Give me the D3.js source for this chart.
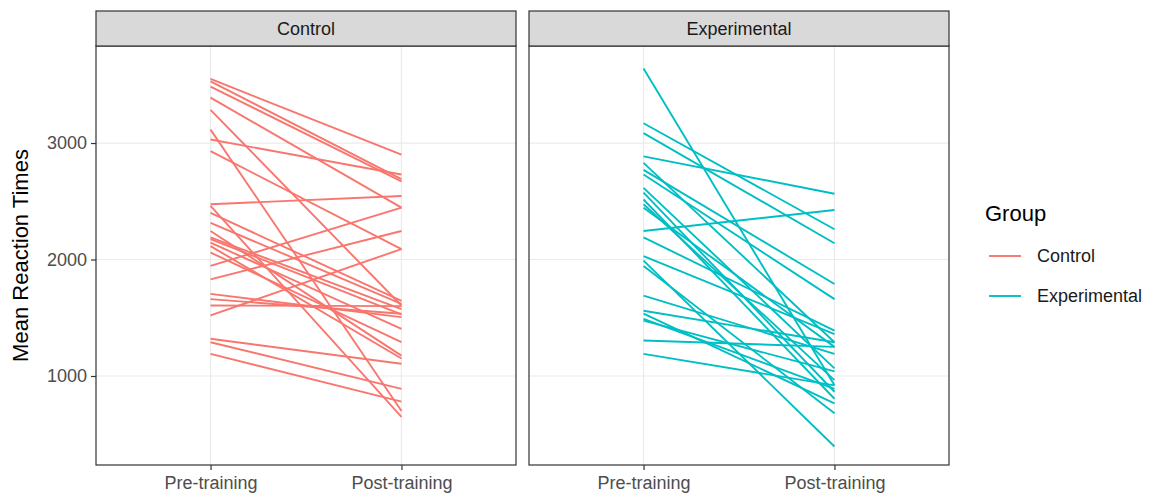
<!DOCTYPE html>
<html>
<head>
<meta charset="utf-8">
<script src="https://cdn.jsdelivr.net/npm/d3@7"></script>
<style>
  body { margin: 0; background: #fff; }
  text { font-family: "Liberation Sans", Arial, sans-serif; }
</style>
</head>
<body>
<svg id="chart" width="1157" height="499"></svg>
<script>
/* data */
const groups = ["Control", "Experimental"];
const times = ["Pre-training", "Post-training"];
const yTicks = [1000, 2000, 3000];

const controlPre = [3550, 3530, 3485, 3390, 3285, 3115, 3030, 2930, 2475, 2460, 2400, 2315, 2245, 2190,
    2175, 2145, 2115, 2060, 1945, 1830, 1705, 1660, 1605, 1520, 1320, 1290, 1190];
const controlPost = [2900, 2690, 2670, 2445, 1605, 700, 2730, 2090, 2545, 650, 1645, 1620, 1175, 1575,
    1530, 1405, 1150, 1290, 2445, 2245, 1505, 1535, 1600, 2090, 1105, 890, 780];

const expPre = [3640, 3170, 3085, 2885, 2830, 2770, 2730, 2615, 2575, 2515, 2475, 2445, 2245, 2190,
    2030, 1990, 1945, 1690, 1560, 1535, 1490, 1475, 1305, 1190];
const expPost = [920, 2260, 2140, 2565, 1290, 1790, 1660, 1065, 865, 805, 965, 1250, 2425, 1390,
    1360, 395, 680, 1190, 1290, 765, 890, 1040, 1250, 920];

const colors = { "Control": "#F8766D", "Experimental": "#00BFC4" };

/* layout */
const margin = { top: 11, strip: 35, bottom: 465 };
const panelW = 420;
const panelX = [96, 529];

const svg = d3.select("#chart");

const yScale = d3.scaleLinear()
    .domain([236, 3833])
    .range([margin.bottom, margin.top + margin.strip]);

// ggplot discrete expansion: 0.6 units each side on 2 levels
const xScale = d3.scalePoint()
    .domain(times)
    .range([panelW * 0.6 / 2.2, panelW * 1.6 / 2.2])
    .padding(0);

const panelData = {
    "Control": controlPre.map((d, i) => ({ pre: d, post: controlPost[i] })),
    "Experimental": expPre.map((d, i) => ({ pre: d, post: expPost[i] }))
};

groups.forEach((g, gi) => {
    const panel = svg.append("g")
        .attr("transform", "translate(" + panelX[gi] + ",0)");
    const top = margin.top + margin.strip;
    const h = margin.bottom - top;

    // grid
    panel.selectAll(".hgrid").data(yTicks).enter()
        .append("line")
        .attr("x1", 0).attr("x2", panelW)
        .attr("y1", d => yScale(d)).attr("y2", d => yScale(d))
        .attr("stroke", "#ebebeb").attr("stroke-width", 1.2);
    panel.selectAll(".vgrid").data(times).enter()
        .append("line")
        .attr("x1", d => xScale(d)).attr("x2", d => xScale(d))
        .attr("y1", top).attr("y2", margin.bottom)
        .attr("stroke", "#ebebeb").attr("stroke-width", 1.2);

    // lines
    panel.selectAll(".subj").data(panelData[g]).enter()
        .append("line")
        .attr("x1", xScale(times[0])).attr("x2", xScale(times[1]))
        .attr("y1", d => yScale(d.pre)).attr("y2", d => yScale(d.post))
        .attr("stroke", colors[g]).attr("stroke-width", 1.9);

    // panel border
    panel.append("rect")
        .attr("x", 0).attr("y", top)
        .attr("width", panelW).attr("height", h)
        .attr("fill", "none").attr("stroke", "#333333").attr("stroke-width", 1.2);

    // strip
    panel.append("rect")
        .attr("x", 0).attr("y", margin.top)
        .attr("width", panelW).attr("height", margin.strip)
        .attr("fill", "#d9d9d9").attr("stroke", "#333333").attr("stroke-width", 1.2);
    panel.append("text")
        .attr("x", panelW / 2).attr("y", margin.top + margin.strip / 2)
        .attr("dy", "0.36em")
        .attr("text-anchor", "middle")
        .attr("font-size", 18)
        .attr("fill", "#1a1a1a")
        .text(g);

    // x axis
    const xAxis = d3.axisBottom(xScale).tickSize(5).tickPadding(6);
    const gx = panel.append("g")
        .attr("transform", "translate(0," + margin.bottom + ")")
        .call(xAxis);
    gx.select(".domain").remove();
    gx.selectAll(".tick line").attr("stroke", "#333333").attr("stroke-width", 1.2);
    gx.selectAll(".tick text").attr("font-size", 18).attr("fill", "#4d4d4d")
        .style("font-family", "Liberation Sans, Arial, sans-serif");
});

/* y axis */
const yAxis = d3.axisLeft(yScale)
    .tickValues(yTicks)
    .tickFormat(d3.format("d"))
    .tickSize(5)
    .tickPadding(4);
const gy = svg.append("g")
    .attr("transform", "translate(" + panelX[0] + ",0)")
    .call(yAxis);
gy.select(".domain").remove();
gy.selectAll(".tick line").attr("stroke", "#333333").attr("stroke-width", 1.2);
gy.selectAll(".tick text").attr("font-size", 18).attr("fill", "#4d4d4d")
    .style("font-family", "Liberation Sans, Arial, sans-serif");

svg.append("text")
    .attr("transform", "translate(28," + ((margin.top + margin.strip + margin.bottom) / 2) + ") rotate(-90)")
    .attr("text-anchor", "middle")
    .attr("font-size", 22)
    .attr("fill", "#000")
    .text("Mean Reaction Times");

/* legend */
const legend = svg.append("g").attr("transform", "translate(985,0)");
legend.append("text")
    .attr("x", 0).attr("y", 221)
    .attr("font-size", 22)
    .attr("fill", "#000")
    .text("Group");
const keys = legend.selectAll(".key").data(groups).enter()
    .append("g")
    .attr("transform", (d, i) => "translate(0," + (256 + i * 40) + ")");
keys.append("line")
    .attr("x1", 4).attr("x2", 36)
    .attr("stroke", d => colors[d]).attr("stroke-width", 1.9);
keys.append("text")
    .attr("x", 52).attr("dy", "0.36em")
    .attr("font-size", 18)
    .attr("fill", "#1a1a1a")
    .text(d => d);
</script>
</body>
</html>
